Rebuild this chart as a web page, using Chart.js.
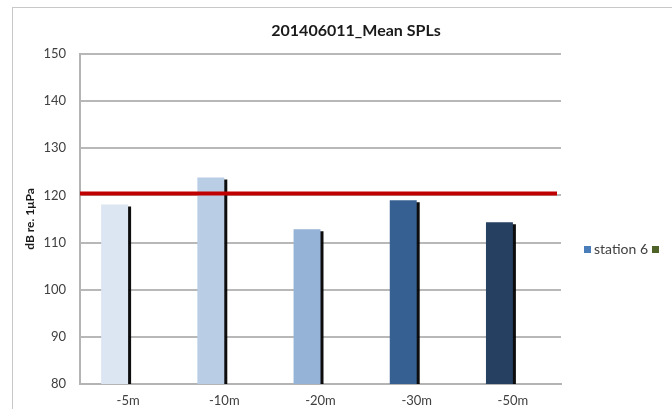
<!DOCTYPE html>
<html>
<head>
<meta charset="utf-8">
<script src="https://cdn.jsdelivr.net/npm/chart.js@4/dist/chart.umd.min.js"></script>
<style>
  html, body { margin: 0; padding: 0; background: #fff; }
  #wrap { position: relative; width: 672px; height: 409px; overflow: hidden; font-family: Lato, "Open Sans", sans-serif; }
  #frame { position: absolute; left: 12px; top: 7px; width: 680px; height: 420px; border: 1px solid #c8c8c8; box-sizing: border-box; }
  #myChart { position: absolute; left: 0; top: 0; }
  #title { position: absolute; left: 200px; width: 312px; top: 20px; text-align: center; font-size: 16px; font-weight: bold; color: #1a1a1a; }
  #legend { position: absolute; left: 584px; top: 240px; font-size: 14px; color: #404040; white-space: nowrap; }
  #legend span.box { display: inline-block; width: 7px; height: 7px; margin-right: 3px; vertical-align: 1px; }
</style>
</head>
<body>
<div id="wrap">
  <div id="frame"></div>
  <canvas id="myChart" width="672" height="409"></canvas>
  <div id="title"></div>
  <div id="legend"></div>
</div>
<script>
var chartTitle = '201406011_Mean SPLs';
var yTitle = 'dB re. 1μPa';

// depths and mean SPL per depth (station 6)
var depths = ['-5m', '-10m', '-20m', '-30m', '-50m'];
var station6 = [118.1, 123.8, 112.8, 119.0, 114.3];
var barColors = ['#dce6f2', '#b9cde5', '#95b3d7', '#376092', '#254061'];

var seriesNames = ['station 6', ''];
var legendColors = ['#4a7ebb', '#4f6228'];

// 120 dB threshold line
var threshold = 120.4;

var yMin = 80, yMax = 150, yStep = 10;

document.getElementById('title').innerText = chartTitle;
var legend = document.getElementById('legend');
for (var i = 0; i < seriesNames.length; i++) {
    legend.innerHTML += '<span class="box" style="background:' + legendColors[i] + '"></span>' +
        (seriesNames[i] ? seriesNames[i] + ' ' : '');
}

var shadowPlugin = {
    id: 'barShadow',
    beforeDatasetDraw: function(chart, args) {
        if (args.index !== 0) return;
        var ctx = chart.ctx;
        ctx.save();
        ctx.shadowColor = 'rgba(0,0,0,0.95)';
        ctx.shadowOffsetX = 3;
        ctx.shadowOffsetY = 2;
        ctx.shadowBlur = 0;
    },
    afterDatasetDraw: function(chart, args) {
        if (args.index !== 0) return;
        chart.ctx.restore();
    }
};

var thresholdPlugin = {
    id: 'threshold',
    afterDatasetsDraw: function(chart) {
        var ctx = chart.ctx;
        var y = chart.scales.y.getPixelForValue(threshold);
        ctx.save();
        ctx.strokeStyle = '#c00000';
        ctx.lineWidth = 4;
        ctx.beginPath();
        ctx.moveTo(chart.chartArea.left, y);
        ctx.lineTo(chart.chartArea.right - 4, y);
        ctx.stroke();
        ctx.restore();
    }
};

Chart.defaults.font.family = 'Lato, "Open Sans", sans-serif';

var ctx = document.getElementById('myChart').getContext('2d');
var myChart = new Chart(ctx, {
    type: 'bar',
    data: {
        labels: depths,
        datasets: [{
            label: seriesNames[0],
            data: station6,
            backgroundColor: barColors,
            barPercentage: 1,
            categoryPercentage: 0.56
        }, {
            label: seriesNames[1],
            data: depths.map(function() { return null; }),
            backgroundColor: legendColors[1],
            barPercentage: 1,
            categoryPercentage: 0.56
        }]
    },
    plugins: [shadowPlugin, thresholdPlugin],
    options: {
        responsive: false,
        animation: false,
        layout: { padding: { left: 0, right: 111, top: 54, bottom: 0 } },
        plugins: {
            legend: { display: false },
            tooltip: { enabled: false },
            title: { display: false }
        },
        scales: {
            x: {
                grid: { display: false, drawTicks: false },
                border: { display: true, color: '#b4b4b4', width: 2 },
                ticks: { color: '#404040', font: { size: 13 }, padding: 9, maxRotation: 0 },
                afterFit: function(scale) { scale.height = 25; }
            },
            y: {
                min: yMin,
                max: yMax,
                grid: { color: '#b8b8b8', lineWidth: 2, drawTicks: false },
                border: { display: true, color: '#b4b4b4', width: 2 },
                ticks: { stepSize: yStep, color: '#404040', font: { size: 13 }, padding: 14 },
                title: {
                    display: true,
                    text: yTitle,
                    color: '#1a1a1a',
                    font: { size: 12, weight: 'bold' },
                    padding: { top: 23, bottom: 0 }
                },
                afterFit: function(scale) { scale.width = 80; }
            }
        }
    }
});
</script>
</body>
</html>
